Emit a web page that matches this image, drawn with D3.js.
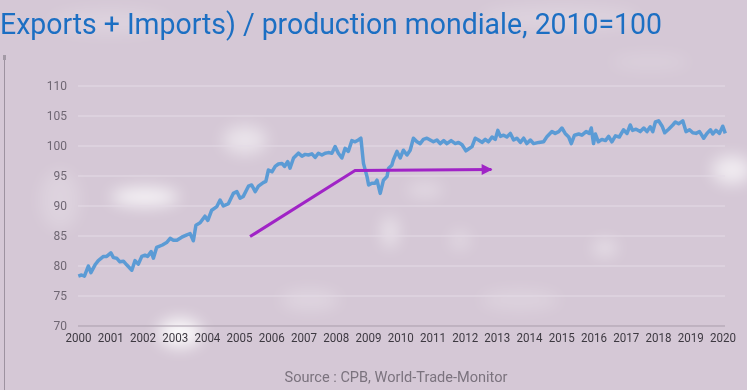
<!DOCTYPE html>
<html>
<head>
<meta charset="utf-8">
<script src="https://cdnjs.cloudflare.com/ajax/libs/d3/7.8.5/d3.min.js"></script>
<style>
  body { margin: 0; background: #d6c9d7; }
  svg { display: block; }
</style>
</head>
<body>
<script>
// data (index, 2010 = 100)
var years = [
  2000.01, 2000.11, 2000.20, 2000.32, 2000.40, 2000.53, 2000.63, 2000.79, 2000.89,
  2001.02, 2001.10, 2001.20, 2001.30, 2001.41, 2001.51, 2001.67, 2001.77, 2001.87, 2001.98,
  2002.08, 2002.16, 2002.27, 2002.34, 2002.44, 2002.62, 2002.75, 2002.86, 2002.96,
  2003.07, 2003.22, 2003.38, 2003.48, 2003.58, 2003.66, 2003.79, 2003.94,
  2004.03, 2004.15, 2004.31, 2004.41, 2004.51, 2004.67, 2004.82, 2004.93,
  2005.03, 2005.13, 2005.29, 2005.39, 2005.50, 2005.60, 2005.75, 2005.83, 2005.91,
  2006.02, 2006.12, 2006.22, 2006.33, 2006.41, 2006.51, 2006.58, 2006.69, 2006.84, 2006.95,
  2007.05, 2007.15, 2007.26, 2007.36, 2007.46, 2007.57, 2007.67, 2007.77, 2007.88, 2007.98,
  2008.08, 2008.19, 2008.29, 2008.39, 2008.50, 2008.60, 2008.70, 2008.78, 2008.86, 2008.97,
  2009.02, 2009.12, 2009.22, 2009.28, 2009.38, 2009.48, 2009.59, 2009.64, 2009.74, 2009.79, 2009.90,
  2010.00, 2010.10, 2010.21, 2010.31, 2010.41, 2010.52, 2010.62, 2010.72, 2010.83, 2010.93,
  2011.03, 2011.14, 2011.24, 2011.35, 2011.45, 2011.58, 2011.71, 2011.81, 2011.92,
  2012.04, 2012.12, 2012.23, 2012.33, 2012.43, 2012.54, 2012.64, 2012.74, 2012.85, 2012.95,
  2013.03, 2013.11, 2013.21, 2013.31, 2013.42, 2013.52, 2013.62, 2013.73, 2013.83, 2013.93,
  2014.04, 2014.14, 2014.30, 2014.45, 2014.56, 2014.71, 2014.81, 2014.92,
  2015.02, 2015.12, 2015.23, 2015.31, 2015.41, 2015.54, 2015.64, 2015.77, 2015.87, 2015.93,
  2016.00, 2016.06, 2016.15, 2016.26, 2016.37, 2016.47, 2016.57, 2016.68, 2016.80, 2016.93,
  2017.04, 2017.14, 2017.21, 2017.32, 2017.45, 2017.56, 2017.66, 2017.76, 2017.84, 2017.92,
  2018.02, 2018.13, 2018.21, 2018.33, 2018.46, 2018.54, 2018.64, 2018.77, 2018.87, 2018.98,
  2019.08, 2019.18, 2019.29, 2019.42, 2019.52, 2019.63, 2019.70, 2019.80, 2019.91,
  2020.01, 2020.09
];
var values = [
  78.3, 78.5, 78.3, 80.0, 78.9, 80.2, 80.9, 81.6, 81.6,
  82.2, 81.4, 81.3, 80.7, 80.8, 80.2, 79.3, 80.9, 80.3, 81.6,
  81.8, 81.6, 82.4, 81.3, 83.1, 83.5, 83.9, 84.6, 84.3,
  84.3, 84.8, 85.2, 85.4, 84.2, 86.8, 87.2, 88.3,
  87.6, 89.3, 89.9, 91.0, 90.0, 90.4, 92.1, 92.4,
  91.3, 91.6, 93.3, 93.5, 92.4, 93.3, 93.9, 94.1, 96.0,
  95.7, 96.6, 97.0, 97.1, 96.6, 97.4, 96.3, 98.0, 98.8, 98.3,
  98.6, 98.5, 98.7, 98.1, 98.8, 98.5, 98.8, 98.9, 98.8, 99.9,
  98.8, 98.0, 99.6, 99.1, 100.9, 100.7, 101.0, 101.3, 97.1, 94.9,
  93.5, 93.8, 93.8, 94.3, 92.1, 94.3, 94.9, 96.3, 96.8, 97.7, 99.1,
  98.0, 99.3, 98.5, 99.3, 101.3, 100.7, 100.4, 101.1, 101.3, 101.0,
  100.7, 101.0, 100.4, 100.9, 100.4, 100.9, 100.4, 100.6, 100.2,
  99.2, 99.5, 99.9, 101.3, 101.0, 100.6, 101.1, 100.7, 101.5, 101.1,
  102.6, 101.6, 101.8, 101.5, 102.1, 101.0, 101.3, 100.6, 101.3, 100.4,
  101.0, 100.4, 100.6, 100.7, 101.6, 102.4, 102.1, 102.4,
  103.0, 102.1, 101.5, 100.4, 101.8, 102.0, 101.8, 102.4, 102.1, 103.0,
  100.4, 102.0, 100.7, 101.1, 100.9, 101.6, 100.7, 101.7, 101.5, 102.7,
  102.1, 103.5, 102.6, 102.8, 102.4, 103.0, 102.4, 103.2, 102.4, 104.0,
  104.2, 103.3, 102.2, 102.8, 103.5, 104.0, 103.7, 104.2, 102.4, 102.7,
  102.2, 102.1, 102.4, 101.3, 102.1, 102.7, 102.0, 102.6, 102.1,
  103.3, 102.1
];

// the purple arrow (trend)
var arrowYears = [2005.34, 2008.60, 2012.83];
var arrowValues = [84.9, 95.9, 96.1];

var yTicks = [70, 75, 80, 85, 90, 95, 100, 105, 110];
var xTicks = d3.range(2000, 2021);

var titleText = "Exports + Imports) / production mondiale, 2010=100";
var sourceText = "Source : CPB, World-Trade-Monitor";

// size of the picture
var width = 747, height = 390;

var svg = d3.select("body").append("svg")
    .attr("width", width)
    .attr("height", height);

var defs = svg.append("defs");
defs.append("filter").attr("id", "blur")
    .attr("x", "-50%").attr("y", "-50%").attr("width", "200%").attr("height", "200%")
  .append("feGaussianBlur").attr("stdDeviation", 8);

defs.append("marker")
    .attr("id", "head")
    .attr("viewBox", "0 0 10 10")
    .attr("refX", 9).attr("refY", 5)
    .attr("markerWidth", 4.2).attr("markerHeight", 3.6)
    .attr("markerUnits", "strokeWidth")
    .attr("orient", "auto")
  .append("path")
    .attr("d", "M0,0 L10,5 L0,10 Z")
    .attr("fill", "#a024c6");

// background: pale lilac with some soft white patches
svg.append("rect").attr("width", width).attr("height", height).attr("fill", "#d5c8d6");
var blobs = [
  [145, 197, 34, 9, 0.8], [245, 140, 22, 14, 0.5], [390, 232, 8, 16, 0.5],
  [425, 190, 18, 6, 0.4], [180, 333, 22, 14, 0.9], [732, 170, 20, 14, 0.65],
  [605, 248, 12, 8, 0.45], [110, 22, 60, 12, 0.2], [560, 18, 80, 12, 0.2],
  [310, 300, 30, 10, 0.25], [520, 300, 40, 10, 0.2], [650, 62, 40, 8, 0.15],
  [60, 200, 20, 30, 0.2], [460, 240, 10, 10, 0.3]
];
svg.append("g").attr("filter", "url(#blur)")
  .selectAll("ellipse").data(blobs).enter().append("ellipse")
    .attr("cx", function(d) { return d[0]; })
    .attr("cy", function(d) { return d[1]; })
    .attr("rx", function(d) { return d[2]; })
    .attr("ry", function(d) { return d[3]; })
    .attr("fill", "#fff")
    .attr("opacity", function(d) { return d[4]; });

// left edge rule of the slide
svg.append("line").attr("x1", 4.5).attr("x2", 4.5).attr("y1", 58).attr("y2", height)
    .attr("stroke", "#9d92a0").attr("stroke-width", 1);
svg.append("rect").attr("x", 3).attr("y", 55).attr("width", 3).attr("height", 5).attr("fill", "#a39aa6");

// title
svg.append("text")
    .attr("x", 0).attr("y", 34)
    .attr("textLength", 662).attr("lengthAdjust", "spacingAndGlyphs")
    .style("font-family", "Roboto, sans-serif")
    .style("font-size", "30px")
    .attr("fill", "#1c6fc3")
    .text(titleText);

// scales
var x = d3.scaleLinear().domain([2000, 2020]).range([78, 722.4]);
var y = d3.scaleLinear().domain([70, 110]).range([326, 86]);

// grid lines
svg.append("g").selectAll("line").data(yTicks).enter().append("line")
    .attr("x1", 78).attr("x2", 725)
    .attr("y1", function(d) { return y(d); })
    .attr("y2", function(d) { return y(d); })
    .attr("stroke", function(d) { return d == 70 ? "#a99dab" : "#e4dbe6"; })
    .attr("stroke-width", 1);

// y axis
var yAxis = svg.append("g")
    .attr("transform", "translate(67,0)")
    .call(d3.axisLeft(y).tickValues(yTicks).tickSize(0).tickPadding(0));
yAxis.select(".domain").remove();
yAxis.selectAll("text")
    .style("font-family", "Roboto, sans-serif")
    .style("font-size", "12px")
    .attr("fill", "#6f6773");

// x axis
var xAxis = svg.append("g")
    .attr("transform", "translate(0,333)")
    .call(d3.axisBottom(x).tickValues(xTicks).tickFormat(d3.format("d")).tickSize(0).tickPadding(0));
xAxis.select(".domain").remove();
xAxis.selectAll("text")
    .attr("dy", "0.71em")
    .attr("textLength", 26).attr("lengthAdjust", "spacingAndGlyphs")
    .style("font-family", "Roboto, sans-serif")
    .style("font-size", "12px")
    .attr("fill", "#3d3941");

// the trade line
var line = d3.line()
    .x(function(d) { return x(d[0]); })
    .y(function(d) { return y(d[1]); });

svg.append("path")
    .datum(d3.zip(years, values))
    .attr("d", line)
    .attr("fill", "none")
    .attr("stroke", "#5b9bd5")
    .attr("stroke-width", 3.5)
    .attr("stroke-linejoin", "round");

// the arrow
svg.append("path")
    .datum(d3.zip(arrowYears, arrowValues))
    .attr("d", line)
    .attr("fill", "none")
    .attr("stroke", "#a024c6")
    .attr("stroke-width", 3)
    .attr("marker-end", "url(#head)");

// source
svg.append("text")
    .attr("x", 396).attr("y", 382)
    .attr("text-anchor", "middle")
    .attr("textLength", 223).attr("lengthAdjust", "spacingAndGlyphs")
    .style("font-family", "Roboto, sans-serif")
    .style("font-size", "15px")
    .attr("fill", "#7b737e")
    .text(sourceText);
</script>
</body>
</html>
